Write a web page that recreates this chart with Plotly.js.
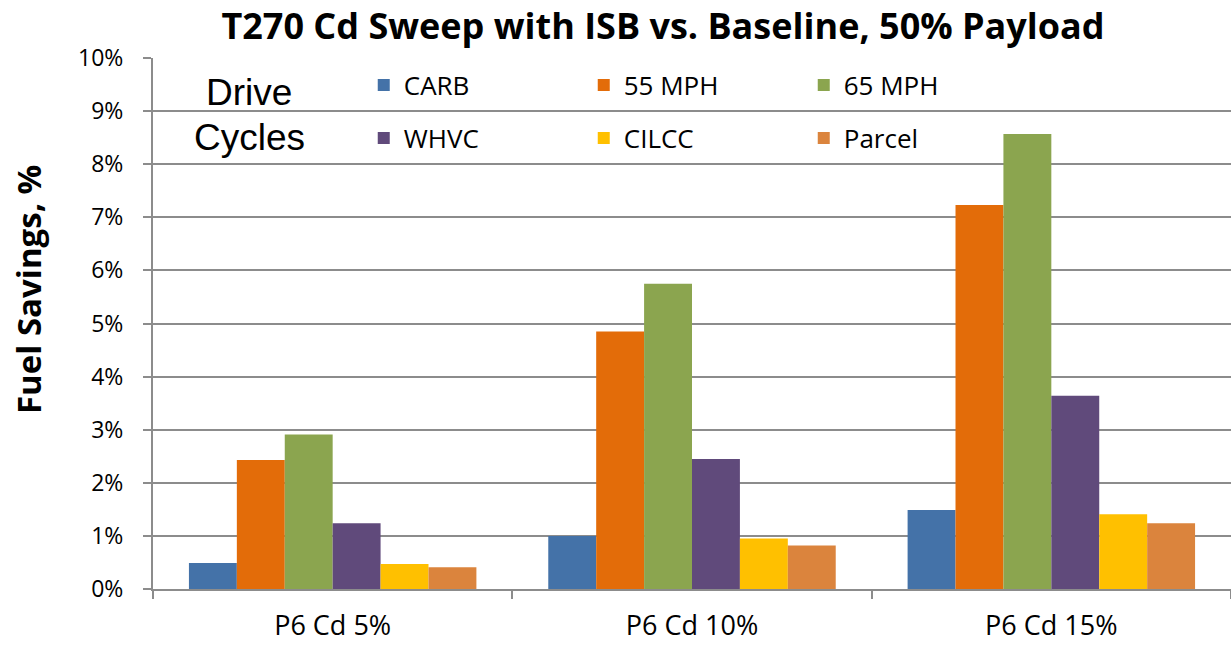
<!DOCTYPE html>
<html><head><meta charset="utf-8">
<script src="https://cdn.plot.ly/plotly-3.0.1.min.js"></script>
<style>html,body{margin:0;padding:0;background:#fff}#chart{width:1231px;height:646px}</style>
</head><body><div id="chart"></div>
<script>
const categories = ["P6 Cd 5%", "P6 Cd 10%", "P6 Cd 15%"];
const carb   = [0.0049, 0.0100, 0.0149];
const mph55  = [0.0243, 0.0485, 0.0723];
const mph65  = [0.0291, 0.0575, 0.0857];
const whvc   = [0.0124, 0.0245, 0.0364];
const cilcc  = [0.0047, 0.0095, 0.0141];
const parcel = [0.0041, 0.0082, 0.0124];
const seriesNames = ["CARB", "55 MPH", "65 MPH", "WHVC", "CILCC", "Parcel"];
const seriesColors = ["#4472a8", "#e36c09", "#8ba54f", "#604a7b", "#ffc000", "#db843d"];
const yTickVals = [0,0.01,0.02,0.03,0.04,0.05,0.06,0.07,0.08,0.09,0.10];

const allSeries = [carb, mph55, mph65, whvc, cilcc, parcel];
const font = "Open Sans, Noto Sans, sans-serif";
const traces = allSeries.map((vals, i) => ({
  type: "bar", x: categories, y: vals, name: seriesNames[i],
  marker: {color: seriesColors[i], line: {width: 0}},
  legend: i < 3 ? "legend" : "legend2",
  hoverinfo: "y"
}));

const legendCommon = {
  orientation: "h", xanchor: "left", yanchor: "middle", x: 0.1955,
  entrywidth: 175, entrywidthmode: "pixels", bgcolor: "rgba(0,0,0,0)",
  font: {family: font, size: 26, color: "#000"}, traceorder: "normal"
};

const layout = {
  width: 1231, height: 646,
  margin: {l: 153, r: 0, t: 58, b: 57},
  paper_bgcolor: "#fff", plot_bgcolor: "#fff",
  barmode: "group", bargap: 0.2, bargroupgap: 0,
  title: {text: "<b>T270 Cd Sweep with ISB vs. Baseline, 50% Payload</b>",
    font: {family: font, size: 36, color: "#000"},
    x: 663/1231, xanchor: "center", xref: "container", y: 1 - 26/646, yref: "container", yanchor: "middle"},
  xaxis: {
    type: "category", showgrid: false, showline: true, linecolor: "#8c8c8c", linewidth: 2,
    ticks: "outside", tickson: "boundaries", ticklen: 8, tickcolor: "#8c8c8c", tickwidth: 2,
    ticklabelstandoff: 12,
    tickfont: {family: font, size: 27, color: "#000"}, zeroline: false
  },
  yaxis: {
    range: [0, 0.1], tickvals: yTickVals, tickformat: ".0%",
    showgrid: true, gridcolor: "#8c8c8c", gridwidth: 2,
    showline: true, linecolor: "#8c8c8c", linewidth: 2,
    ticks: "outside", ticklen: 8, tickcolor: "#8c8c8c", tickwidth: 2,
    ticklabelstandoff: 15,
    tickfont: {family: font, size: 23, color: "#000"}, zeroline: false
  },
  legend: Object.assign({}, legendCommon, {y: (589 - 85)/531}),
  legend2: Object.assign({}, legendCommon, {y: (589 - 138)/531}),
  annotations: [
    {text: "Drive", x: 249, y: 92},
    {text: "Cycles", x: 249, y: 137}
  ].map(a => Object.assign(a, {x: (a.x - 153)/1078, y: (589 - a.y)/531, xref: "paper", yref: "paper",
     showarrow: false, xanchor: "center", yanchor: "middle",
     font: {family: "Liberation Sans, Arial, sans-serif", size: 37, color: "#000"}}))
   .concat([{text: "<b>Fuel Savings, %</b>", textangle: -90, x: (28 - 153)/1078, y: (589 - 290)/531,
     xref: "paper", yref: "paper", showarrow: false, xanchor: "center", yanchor: "middle",
     font: {family: font, size: 33, color: "#000"}}]),
  showlegend: true
};

Plotly.newPlot("chart", traces, layout, {displayModeBar: false, staticPlot: true});
</script></body></html>
